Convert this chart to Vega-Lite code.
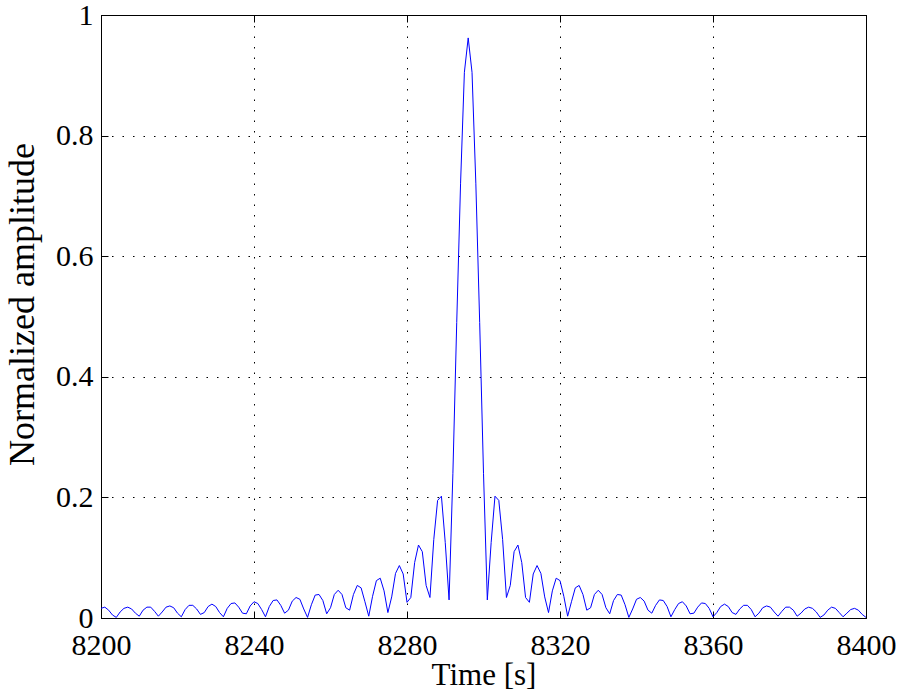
{
  "$schema": "https://vega.github.io/schema/vega-lite/v6.json",
  "width": 765,
  "height": 603,
  "autosize": {"type": "none"},
  "padding": {"left": 101, "top": 15, "right": 35, "bottom": 75},
  "background": "white",
  "config": {
    "view": {"stroke": "black", "strokeWidth": 1},
    "axis": {
      "labelFont": "Liberation Serif",
      "titleFont": "Liberation Serif",
      "labelFontSize": 30,
      "titleFontSize": 31,
      "labelColor": "black",
      "titleColor": "black",
      "titleFontWeight": "normal",
      "domainColor": "black",
      "tickColor": "black",
      "tickSize": -7,
      "domainWidth": 1,
      "tickWidth": 1,
      "gridColor": "black",
      "gridOpacity": 1,
      "gridWidth": 1,
      "gridDash": [1.5, 9]
    }
  },
  "data": {"values": [
    {"t":8200,"amp":0.016},{"t":8201,"amp":0.018},{"t":8202,"amp":0.013},{"t":8203,"amp":0.005},{"t":8204,"amp":0.001},
    {"t":8205,"amp":0.010},{"t":8206,"amp":0.016},{"t":8207,"amp":0.018},{"t":8208,"amp":0.015},{"t":8209,"amp":0.008},
    {"t":8210,"amp":0.003},{"t":8211,"amp":0.013},{"t":8212,"amp":0.018},{"t":8213,"amp":0.018},{"t":8214,"amp":0.011},
    {"t":8215,"amp":0.003},{"t":8216,"amp":0.010},{"t":8217,"amp":0.018},{"t":8218,"amp":0.020},{"t":8219,"amp":0.017},
    {"t":8220,"amp":0.008},{"t":8221,"amp":0.002},{"t":8222,"amp":0.014},{"t":8223,"amp":0.021},{"t":8224,"amp":0.021},
    {"t":8225,"amp":0.015},{"t":8226,"amp":0.006},{"t":8227,"amp":0.009},{"t":8228,"amp":0.019},{"t":8229,"amp":0.023},
    {"t":8230,"amp":0.019},{"t":8231,"amp":0.009},{"t":8232,"amp":0.002},{"t":8233,"amp":0.016},{"t":8234,"amp":0.024},
    {"t":8235,"amp":0.025},{"t":8236,"amp":0.018},{"t":8237,"amp":0.008},{"t":8238,"amp":0.007},{"t":8239,"amp":0.020},
    {"t":8240,"amp":0.027},{"t":8241,"amp":0.024},{"t":8242,"amp":0.014},{"t":8243,"amp":0.002},{"t":8244,"amp":0.019},
    {"t":8245,"amp":0.029},{"t":8246,"amp":0.030},{"t":8247,"amp":0.021},{"t":8248,"amp":0.008},{"t":8249,"amp":0.013},
    {"t":8250,"amp":0.028},{"t":8251,"amp":0.034},{"t":8252,"amp":0.031},{"t":8253,"amp":0.015},{"t":8254,"amp":0.001},
    {"t":8255,"amp":0.022},{"t":8256,"amp":0.038},{"t":8257,"amp":0.039},{"t":8258,"amp":0.029},{"t":8259,"amp":0.007},
    {"t":8260,"amp":0.017},{"t":8261,"amp":0.039},{"t":8262,"amp":0.046},{"t":8263,"amp":0.039},{"t":8264,"amp":0.017},
    {"t":8265,"amp":0.013},{"t":8266,"amp":0.039},{"t":8267,"amp":0.054},{"t":8268,"amp":0.050},{"t":8269,"amp":0.027},
    {"t":8270,"amp":0.003},{"t":8271,"amp":0.036},{"t":8272,"amp":0.062},{"t":8273,"amp":0.066},{"t":8274,"amp":0.045},
    {"t":8275,"amp":0.009},{"t":8276,"amp":0.035},{"t":8277,"amp":0.074},{"t":8278,"amp":0.087},{"t":8279,"amp":0.073},
    {"t":8280,"amp":0.026},{"t":8281,"amp":0.034},{"t":8282,"amp":0.092},{"t":8283,"amp":0.121},{"t":8284,"amp":0.110},
    {"t":8285,"amp":0.054},{"t":8286,"amp":0.034},{"t":8287,"amp":0.130},{"t":8288,"amp":0.195},{"t":8289,"amp":0.202},
    {"t":8290,"amp":0.125},{"t":8291,"amp":0.030},{"t":8292,"amp":0.240},{"t":8293,"amp":0.490},{"t":8294,"amp":0.720},
    {"t":8295,"amp":0.905},{"t":8296,"amp":0.962},{"t":8297,"amp":0.905},{"t":8298,"amp":0.720},{"t":8299,"amp":0.490},
    {"t":8300,"amp":0.240},{"t":8301,"amp":0.030},{"t":8302,"amp":0.125},{"t":8303,"amp":0.202},{"t":8304,"amp":0.195},
    {"t":8305,"amp":0.130},{"t":8306,"amp":0.034},{"t":8307,"amp":0.054},{"t":8308,"amp":0.110},{"t":8309,"amp":0.121},
    {"t":8310,"amp":0.092},{"t":8311,"amp":0.034},{"t":8312,"amp":0.026},{"t":8313,"amp":0.073},{"t":8314,"amp":0.087},
    {"t":8315,"amp":0.074},{"t":8316,"amp":0.035},{"t":8317,"amp":0.009},{"t":8318,"amp":0.045},{"t":8319,"amp":0.066},
    {"t":8320,"amp":0.062},{"t":8321,"amp":0.036},{"t":8322,"amp":0.003},{"t":8323,"amp":0.027},{"t":8324,"amp":0.050},
    {"t":8325,"amp":0.054},{"t":8326,"amp":0.039},{"t":8327,"amp":0.013},{"t":8328,"amp":0.017},{"t":8329,"amp":0.039},
    {"t":8330,"amp":0.046},{"t":8331,"amp":0.039},{"t":8332,"amp":0.017},{"t":8333,"amp":0.007},{"t":8334,"amp":0.029},
    {"t":8335,"amp":0.039},{"t":8336,"amp":0.038},{"t":8337,"amp":0.022},{"t":8338,"amp":0.001},{"t":8339,"amp":0.015},
    {"t":8340,"amp":0.031},{"t":8341,"amp":0.034},{"t":8342,"amp":0.028},{"t":8343,"amp":0.013},{"t":8344,"amp":0.008},
    {"t":8345,"amp":0.021},{"t":8346,"amp":0.030},{"t":8347,"amp":0.029},{"t":8348,"amp":0.019},{"t":8349,"amp":0.002},
    {"t":8350,"amp":0.014},{"t":8351,"amp":0.024},{"t":8352,"amp":0.027},{"t":8353,"amp":0.020},{"t":8354,"amp":0.007},
    {"t":8355,"amp":0.008},{"t":8356,"amp":0.018},{"t":8357,"amp":0.025},{"t":8358,"amp":0.024},{"t":8359,"amp":0.016},
    {"t":8360,"amp":0.002},{"t":8361,"amp":0.009},{"t":8362,"amp":0.019},{"t":8363,"amp":0.023},{"t":8364,"amp":0.019},
    {"t":8365,"amp":0.009},{"t":8366,"amp":0.006},{"t":8367,"amp":0.015},{"t":8368,"amp":0.021},{"t":8369,"amp":0.021},
    {"t":8370,"amp":0.014},{"t":8371,"amp":0.002},{"t":8372,"amp":0.008},{"t":8373,"amp":0.017},{"t":8374,"amp":0.020},
    {"t":8375,"amp":0.018},{"t":8376,"amp":0.010},{"t":8377,"amp":0.003},{"t":8378,"amp":0.011},{"t":8379,"amp":0.018},
    {"t":8380,"amp":0.018},{"t":8381,"amp":0.013},{"t":8382,"amp":0.003},{"t":8383,"amp":0.008},{"t":8384,"amp":0.015},
    {"t":8385,"amp":0.018},{"t":8386,"amp":0.016},{"t":8387,"amp":0.010},{"t":8388,"amp":0.001},{"t":8389,"amp":0.005},
    {"t":8390,"amp":0.013},{"t":8391,"amp":0.018},{"t":8392,"amp":0.016},{"t":8393,"amp":0.009},{"t":8394,"amp":0.002},
    {"t":8395,"amp":0.008},{"t":8396,"amp":0.014},{"t":8397,"amp":0.016},{"t":8398,"amp":0.013},{"t":8399,"amp":0.006},
    {"t":8400,"amp":0.001}
  ]},
  "layer": [
    {
      "mark": {"type": "line", "color": "#0000ff", "strokeWidth": 1, "clip": true},
      "encoding": {
        "x": {"field": "t", "type": "quantitative",
          "scale": {"domain": [8200, 8400], "nice": false, "zero": false},
          "axis": {"orient": "bottom", "values": [8200, 8240, 8280, 8320, 8360, 8400], "format": "d",
            "title": "Time [s]", "labelFont": "Liberation Serif", "labelPadding": 19, "titlePadding": 0, "grid": true, "labelFlush": false}},
        "y": {"field": "amp", "type": "quantitative",
          "scale": {"domain": [0, 1], "nice": false, "zero": false},
          "axis": {"orient": "left", "values": [0, 0.2, 0.4, 0.6, 0.8, 1], "format": "~g",
            "title": "Normalized amplitude", "titleFontSize": 36, "titleY": 289, "labelFont": "Liberation Serif", "labelPadding": 15, "titlePadding": 14, "grid": true, "labelFlush": false}}
      }
    },
    {
      "mark": {"type": "line", "opacity": 0},
      "encoding": {
        "x": {"field": "t", "type": "quantitative",
          "scale": {"domain": [8200, 8400], "nice": false, "zero": false},
          "axis": {"orient": "top", "values": [8200, 8240, 8280, 8320, 8360, 8400], "labels": false, "title": null, "grid": false}},
        "y": {"field": "amp", "type": "quantitative",
          "scale": {"domain": [0, 1], "nice": false, "zero": false},
          "axis": {"orient": "right", "values": [0, 0.2, 0.4, 0.6, 0.8, 1], "labels": false, "title": null, "grid": false}}
      }
    }
  ],
  "resolve": {"axis": {"x": "independent", "y": "independent"}}
}
